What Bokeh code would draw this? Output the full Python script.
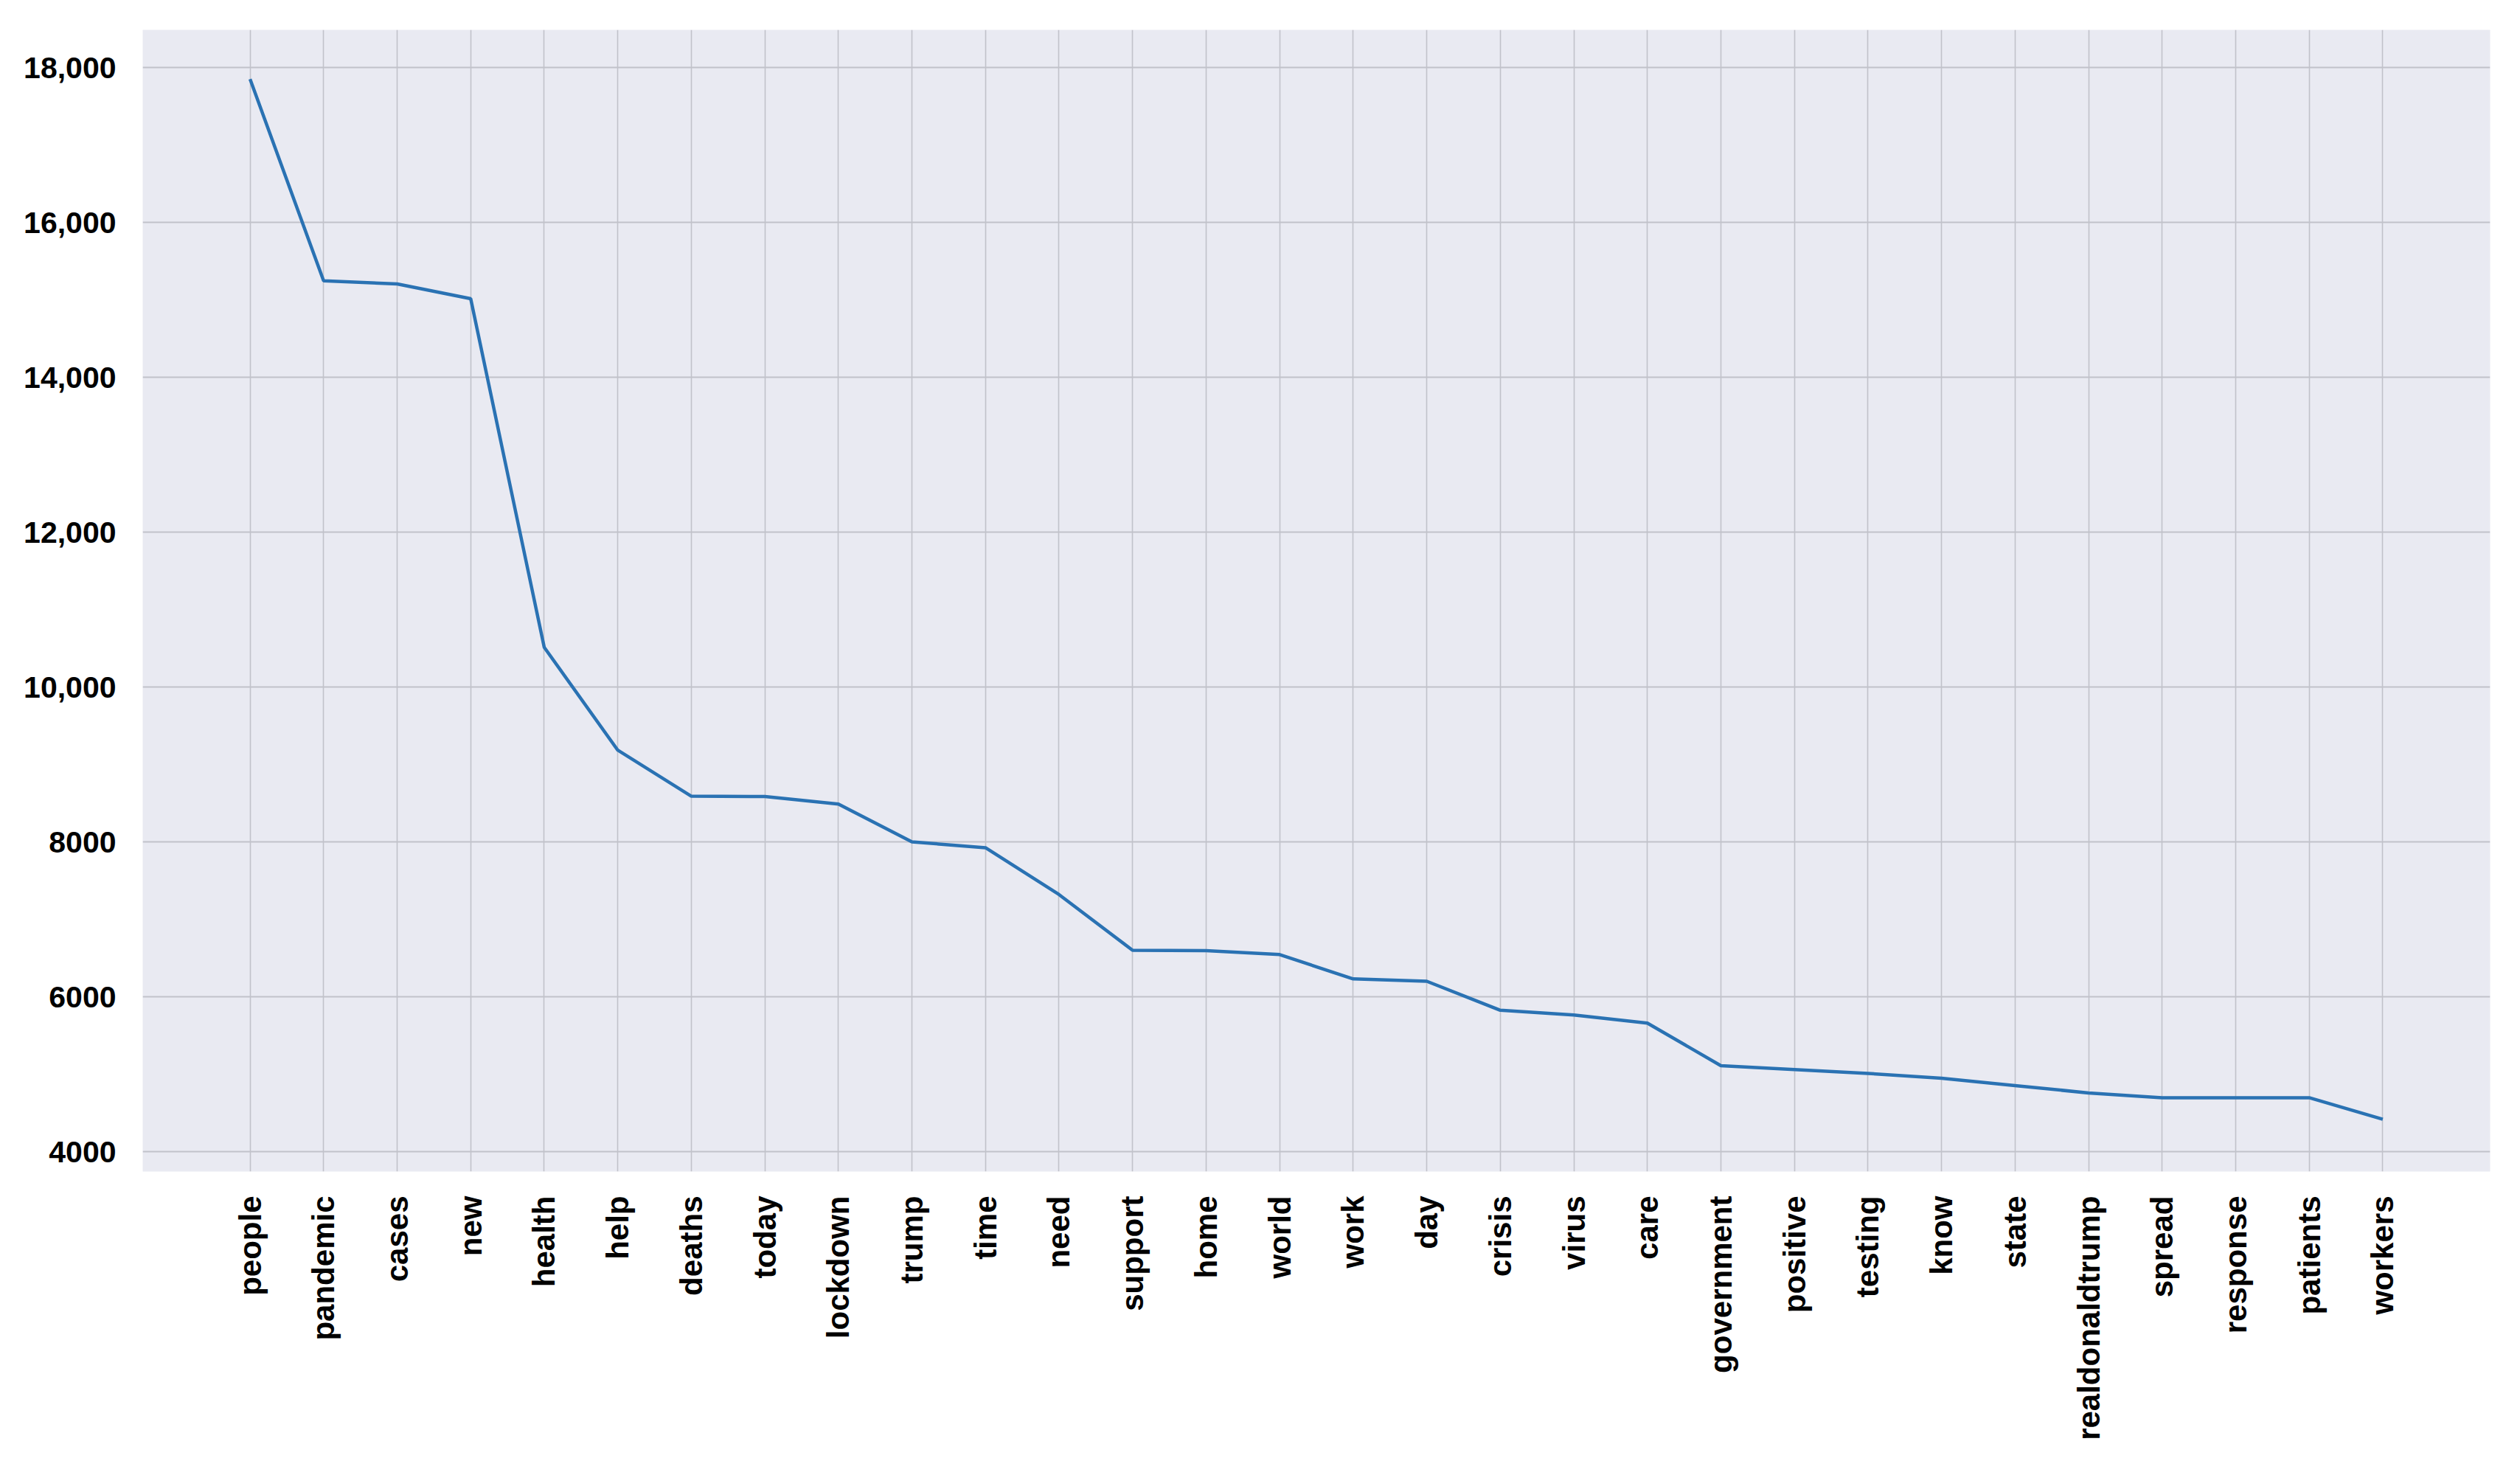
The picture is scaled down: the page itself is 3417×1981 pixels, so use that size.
import math
from bokeh.plotting import figure
from bokeh.models import FactorRange, Range1d, FixedTicker, ColumnDataSource
from bokeh.embed import file_html
from bokeh.resources import INLINE

words = ["people", "pandemic", "cases", "new", "health", "help", "deaths", "today",
         "lockdown", "trump", "time", "need", "support", "home", "world", "work", "day",
         "crisis", "virus", "care", "government", "positive", "testing", "know", "state",
         "realdonaldtrump", "spread", "response", "patients", "workers"]
counts = [17850, 15245, 15205, 15015, 10512, 9184, 8590, 8585, 8488, 8000, 7925, 7320,
          6600, 6595, 6545, 6230, 6200, 5826, 5764, 5660, 5110, 5060, 5010, 4948, 4853,
          4758, 4696, 4696, 4696, 4418]
y_ticks = [4000, 6000, 8000, 10000, 12000, 14000, 16000, 18000]
y_tick_labels = ["4000", "6000", "8000", "10,000", "12,000", "14,000", "16,000", "18,000"]

source = ColumnDataSource(data=dict(word=words, count=counts))

p = figure(
    width=3400, height=1960,
    x_range=FactorRange(factors=words, range_padding=0.96, range_padding_units="absolute"),
    y_range=Range1d(3743, 18486),
    output_backend="svg", toolbar_location=None,
    min_border_left=193, min_border_right=24, min_border_top=40, min_border_bottom=372,
)
p.line(x="word", y="count", source=source, line_color="#2a72b3", line_width=4.5)

p.background_fill_color = "#e9eaf2"
p.border_fill_color = "white"
p.outline_line_color = None

p.xgrid.grid_line_color = "#c1c2ca"
p.xgrid.grid_line_width = 1.6
p.ygrid.grid_line_color = "#c1c2ca"
p.ygrid.grid_line_width = 2

p.yaxis.ticker = FixedTicker(ticks=y_ticks)
p.yaxis.major_label_overrides = {t: l for t, l in zip(y_ticks, y_tick_labels)}

for ax in (p.xaxis[0], p.yaxis[0]):
    ax.axis_line_color = None
    ax.major_tick_line_color = None
    ax.minor_tick_line_color = None
    ax.major_label_text_font = "Liberation Sans"
    ax.major_label_text_font_style = "bold"
    ax.major_label_text_color = "black"

p.yaxis.major_label_text_font_size = "41px"
p.yaxis.major_label_standoff = 30
p.xaxis.major_label_text_font_size = "42px"
p.xaxis.major_label_orientation = math.pi / 2
p.xaxis.major_label_standoff = 27

open("out.html", "w").write(file_html(p, INLINE))
